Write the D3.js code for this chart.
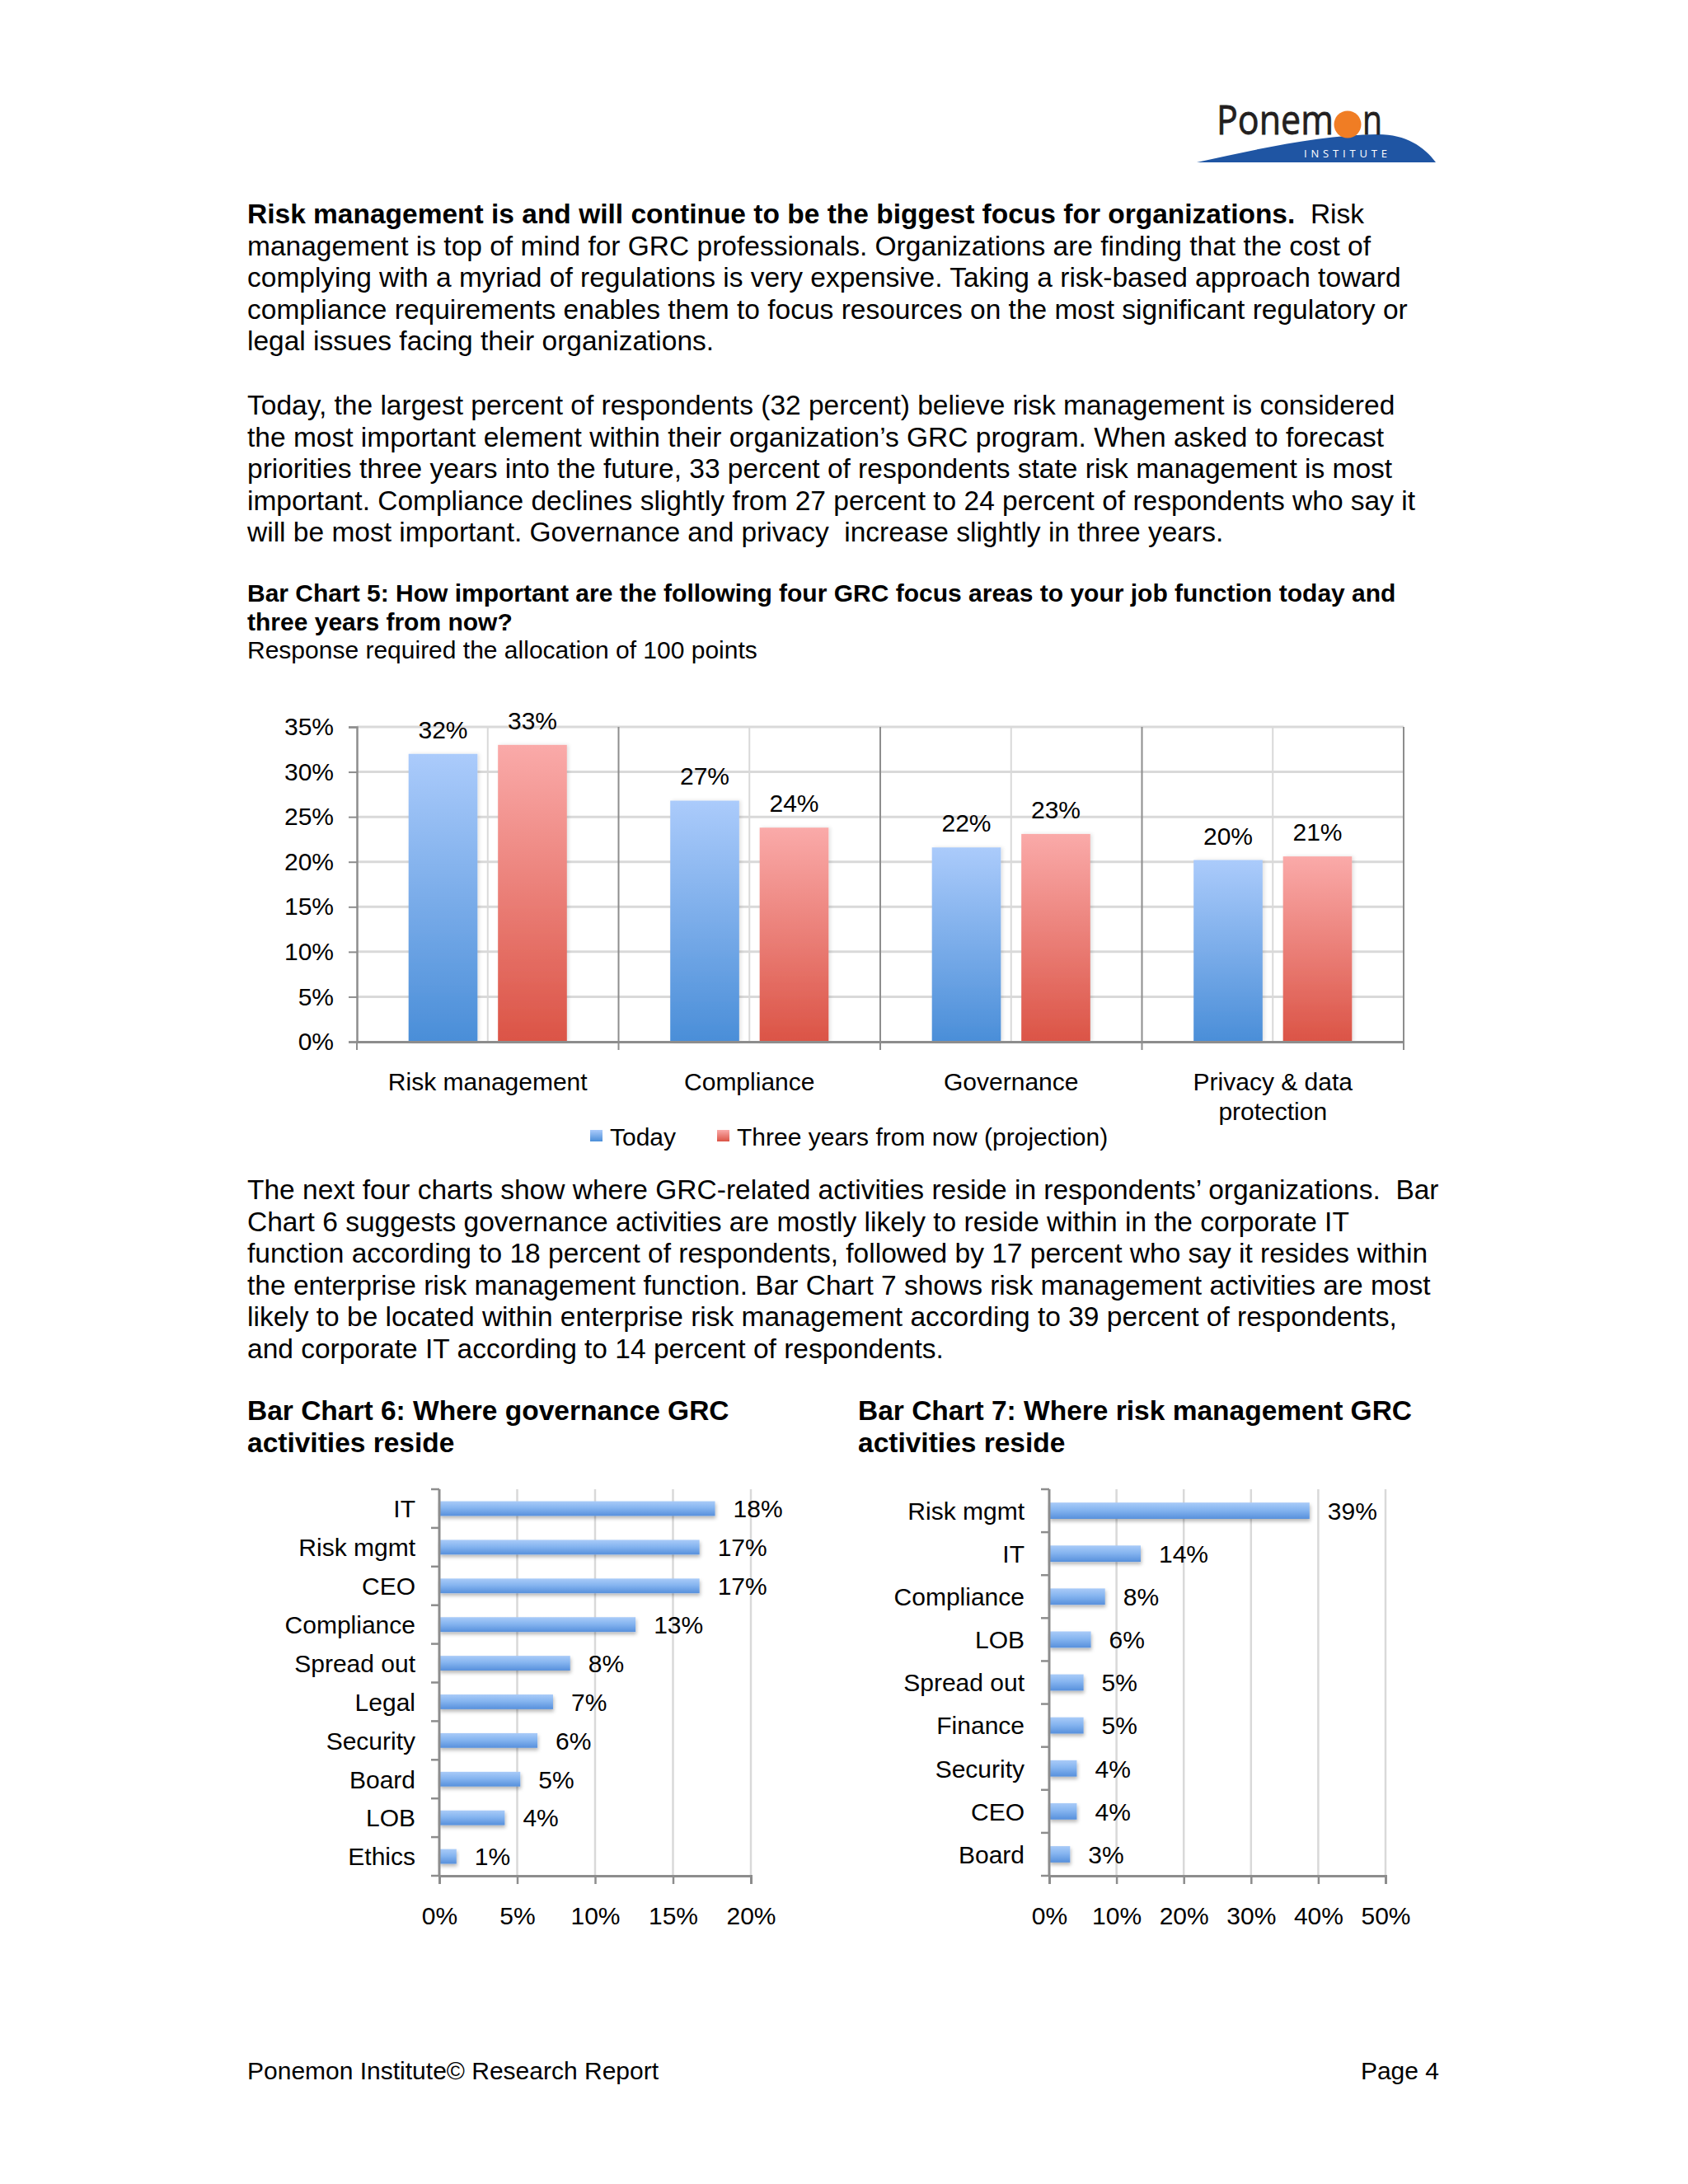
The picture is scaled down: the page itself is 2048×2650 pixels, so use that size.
<!DOCTYPE html>
<html>
<head>
<meta charset="utf-8">
<script src="https://cdn.jsdelivr.net/npm/d3@7"></script>
<style>
  html, body { margin: 0; padding: 0; background: #fff; }
  svg { display: block; }
  text { font-family: "Liberation Sans", Arial, Helvetica, sans-serif; fill: #000; white-space: pre; }
</style>
</head>
<body>
<script>
// ---------------- DATA ----------------
const para1Bold = "Risk management is and will continue to be the biggest focus for organizations.";
const para1Lines = [
  "  Risk",
  "management is top of mind for GRC professionals. Organizations are finding that the cost of",
  "complying with a myriad of regulations is very expensive. Taking a risk-based approach toward",
  "compliance requirements enables them to focus resources on the most significant regulatory or",
  "legal issues facing their organizations."
];
const para2Lines = [
  "Today, the largest percent of respondents (32 percent) believe risk management is considered",
  "the most important element within their organization\u2019s GRC program. When asked to forecast",
  "priorities three years into the future, 33 percent of respondents state risk management is most",
  "important. Compliance declines slightly from 27 percent to 24 percent of respondents who say it",
  "will be most important. Governance and privacy  increase slightly in three years."
];
const chart5TitleLines = [
  "Bar Chart 5: How important are the following four GRC focus areas to your job function today and",
  "three years from now?"
];
const chart5Subtitle = "Response required the allocation of 100 points";
const para3Lines = [
  "The next four charts show where GRC-related activities reside in respondents\u2019 organizations.  Bar",
  "Chart 6 suggests governance activities are mostly likely to reside within in the corporate IT",
  "function according to 18 percent of respondents, followed by 17 percent who say it resides within",
  "the enterprise risk management function. Bar Chart 7 shows risk management activities are most",
  "likely to be located within enterprise risk management according to 39 percent of respondents,",
  "and corporate IT according to 14 percent of respondents."
];
const chart6Title = ["Bar Chart 6: Where governance GRC", "activities reside"];
const chart7Title = ["Bar Chart 7: Where risk management GRC", "activities reside"];
const footerLeft = "Ponemon Institute\u00a9 Research Report";
const footerRight = "Page 4";

// Chart 5
const c5Categories = [["Risk management"], ["Compliance"], ["Governance"], ["Privacy & data", "protection"]];
const c5Series = ["Today", "Three years from now (projection)"];
const c5Today = [0.320, 0.268, 0.216, 0.202];
const c5Future = [0.330, 0.238, 0.231, 0.206];
const c5Ticks = [0, 0.05, 0.10, 0.15, 0.20, 0.25, 0.30, 0.35];

// Chart 6
const c6Categories = ["IT", "Risk mgmt", "CEO", "Compliance", "Spread out", "Legal", "Security", "Board", "LOB", "Ethics"];
const c6Values = [0.177, 0.167, 0.167, 0.126, 0.084, 0.073, 0.063, 0.052, 0.042, 0.011];
const c6Ticks = [0, 0.05, 0.10, 0.15, 0.20];

// Chart 7
const c7Categories = ["Risk mgmt", "IT", "Compliance", "LOB", "Spread out", "Finance", "Security", "CEO", "Board"];
const c7Values = [0.387, 0.136, 0.083, 0.062, 0.051, 0.051, 0.041, 0.041, 0.031];
const c7Ticks = [0, 0.10, 0.20, 0.30, 0.40, 0.50];

// ---------------- DRAW ----------------
const W = 2048, H = 2650;
const svg = d3.select("body").append("svg").attr("width", W).attr("height", H);
svg.append("rect").attr("width", W).attr("height", H).attr("fill", "#fff");

const defs = svg.append("defs");
function vgrad(id, stops) {
  const g = defs.append("linearGradient").attr("id", id)
    .attr("x1", 0).attr("y1", 0).attr("x2", 0).attr("y2", 1);
  stops.forEach(s => g.append("stop").attr("offset", s[0]).attr("stop-color", s[1]));
}
vgrad("gBlue", [[0, "#abcbfb"], [1, "#4a8ed8"]]);
vgrad("gRed", [[0, "#faaaa9"], [1, "#db5446"]]);
vgrad("gHBar", [[0, "#a9cbf8"], [0.45, "#86b5f0"], [1, "#5790dc"]]);
const f = defs.append("filter").attr("id", "shadow").attr("x", "-10%").attr("y", "-30%").attr("width", "130%").attr("height", "200%");
f.append("feDropShadow").attr("dx", 1).attr("dy", 3).attr("stdDeviation", 2)
  .attr("flood-color", "#000").attr("flood-opacity", 0.28);
const f2 = defs.append("filter").attr("id", "shadow2").attr("x", "-10%").attr("y", "-10%").attr("width", "130%").attr("height", "130%");
f2.append("feDropShadow").attr("dx", 2).attr("dy", 0).attr("stdDeviation", 2)
  .attr("flood-color", "#000").attr("flood-opacity", 0.12);

// ---- Logo ----
const logo = svg.append("g");
logo.append("path")
  .attr("d", "M1452,197 C1525,181 1600,164 1672,163 C1706,163 1728,178 1742,197 Z")
  .attr("fill", "#1f55a3");
const logoFont = "'Open Sans', 'DejaVu Sans', sans-serif";
logo.append("text").attr("x", 1476).attr("y", 163)
  .style("font-family", logoFont).style("font-size", "49px")
  .style("fill", "#231f20").style("stroke", "#231f20").style("stroke-width", "0.8px")
  .attr("textLength", 142).attr("lengthAdjust", "spacingAndGlyphs").text("Ponem");
logo.append("circle").attr("cx", 1635).attr("cy", 151).attr("r", 16.5).attr("fill", "#f07d24");
logo.append("text").attr("x", 1653).attr("y", 163)
  .style("font-family", logoFont).style("font-size", "49px")
  .style("fill", "#231f20").style("stroke", "#231f20").style("stroke-width", "0.8px")
  .attr("textLength", 24).attr("lengthAdjust", "spacingAndGlyphs").text("n");
logo.append("text").attr("x", 1582).attr("y", 191)
  .style("font-family", logoFont).style("font-size", "13px")
  .style("fill", "#fff").style("letter-spacing", "5px")
  .attr("textLength", 106).attr("lengthAdjust", "spacing").text("INSTITUTE");

// ---- Body text ----
const LEFT = 300, BODY = 33.5, LH = 38.6;
function lines(arr, y0, lh, size, weight) {
  arr.forEach((t, i) => {
    svg.append("text").attr("x", LEFT).attr("y", y0 + i * lh)
      .style("font-size", size + "px").style("font-weight", weight || "normal").text(t);
  });
}
const p1 = svg.append("text").attr("x", LEFT).attr("y", 271).style("font-size", BODY + "px");
p1.append("tspan").style("font-weight", "bold").text(para1Bold);
p1.append("tspan").text(para1Lines[0]);
lines(para1Lines.slice(1), 271 + LH, LH, BODY);
lines(para2Lines, 503, LH, BODY);
lines(chart5TitleLines, 730, 34.6, 30, "bold");
svg.append("text").attr("x", LEFT).attr("y", 799).style("font-size", "30px").text(chart5Subtitle);
lines(para3Lines, 1455, LH, BODY);
chart6Title.forEach((t, i) => svg.append("text").attr("x", LEFT).attr("y", 1723 + i * 39)
  .style("font-size", BODY + "px").style("font-weight", "bold").text(t));
chart7Title.forEach((t, i) => svg.append("text").attr("x", 1041).attr("y", 1723 + i * 39)
  .style("font-size", BODY + "px").style("font-weight", "bold").text(t));
svg.append("text").attr("x", LEFT).attr("y", 2523).style("font-size", "30px").text(footerLeft);
svg.append("text").attr("x", 1746).attr("y", 2523).attr("text-anchor", "end").style("font-size", "30px").text(footerRight);

const pct = d3.format(".0%");
const AXIS = "#8d8d8d", GRID = "#d9d9d9";

// ---- Chart 5 ----
(function () {
  const g = svg.append("g");
  const catIdx = d3.range(c5Categories.length);
  const x0 = d3.scaleBand().domain(catIdx).range([433, 1703]).padding(0);
  const x1 = d3.scaleBand().domain(c5Series).range([0, x0.bandwidth()]).paddingInner(0.229).paddingOuter(0.578);
  const y = d3.scaleLinear().domain([0, 0.35]).range([1264, 882]);
  const top = y(0.35), bottom = y(0);

  g.selectAll(".hg").data(c5Ticks.filter(t => t > 0)).join("line")
    .attr("x1", x0.range()[0]).attr("x2", x0.range()[1])
    .attr("y1", d => y(d)).attr("y2", d => y(d))
    .attr("stroke", GRID).attr("stroke-width", 3);
  g.selectAll(".vm").data(catIdx).join("line")
    .attr("x1", d => x0(d) + x0.bandwidth() / 2).attr("x2", d => x0(d) + x0.bandwidth() / 2)
    .attr("y1", top).attr("y2", bottom).attr("stroke", GRID).attr("stroke-width", 2);
  const seps = catIdx.map(d => x0(d) + x0.bandwidth());
  g.selectAll(".sep").data(seps).join("line")
    .attr("x1", d => d).attr("x2", d => d).attr("y1", top).attr("y2", bottom + 10)
    .attr("stroke", AXIS).attr("stroke-width", 2);

  const series = [c5Today, c5Future];
  const fills = ["url(#gBlue)", "url(#gRed)"];
  series.forEach((vals, si) => {
    g.selectAll(".b" + si).data(vals).join("rect")
      .attr("x", (d, i) => x0(i) + x1(c5Series[si]))
      .attr("y", d => y(d)).attr("width", x1.bandwidth())
      .attr("height", d => bottom - y(d))
      .attr("fill", fills[si]).attr("filter", "url(#shadow2)");
    g.selectAll(".l" + si).data(vals).join("text")
      .attr("x", (d, i) => x0(i) + x1(c5Series[si]) + x1.bandwidth() / 2)
      .attr("y", d => y(d) - 19).attr("text-anchor", "middle")
      .style("font-size", "30px").text(d => pct(d));
  });

  const ya = g.append("g").attr("transform", `translate(${x0.range()[0]},0)`)
    .call(d3.axisLeft(y).tickValues(c5Ticks).tickFormat(pct).tickSize(10).tickPadding(18));
  ya.select(".domain").attr("stroke", AXIS).attr("stroke-width", 2.5);
  ya.selectAll(".tick line").attr("stroke", AXIS).attr("stroke-width", 2);
  ya.selectAll(".tick text").style("font-size", "30px").style("font-family", "'Liberation Sans', Arial, sans-serif").attr("fill", "#000");
  const xa = g.append("g").attr("transform", `translate(0,${bottom})`)
    .call(d3.axisBottom(x0).tickSize(0).tickFormat(""));
  xa.select(".domain").attr("stroke", AXIS).attr("stroke-width", 3);
  xa.selectAll(".tick text").remove();
  g.append("line").attr("x1", x0.range()[0]).attr("x2", x0.range()[0]).attr("y1", bottom).attr("y2", bottom + 10)
    .attr("stroke", AXIS).attr("stroke-width", 2);
  catIdx.forEach(i => {
    c5Categories[i].forEach((t, j) => {
      g.append("text").attr("x", x0(i) + x0.bandwidth() / 2).attr("y", 1323 + j * 36)
        .attr("text-anchor", "middle").style("font-size", "30px").text(t);
    });
  });
  const legX = [716, 870];
  c5Series.forEach((s, i) => {
    g.append("rect").attr("x", legX[i]).attr("y", 1371).attr("width", 15).attr("height", 14)
      .attr("fill", fills[i]);
    g.append("text").attr("x", legX[i] + 24).attr("y", 1390).style("font-size", "30px").text(s);
  });
})();

// ---- Horizontal bar charts ----
function hbar(cats, vals, ticks, xr, yr, labelRight) {
  const g = svg.append("g");
  const x = d3.scaleLinear().domain([ticks[0], ticks[ticks.length - 1]]).range(xr);
  const y = d3.scaleBand().domain(cats).range(yr).paddingInner(0.62).paddingOuter(0.31);
  g.selectAll(".vg").data(ticks.filter(t => t > 0)).join("line")
    .attr("x1", d => x(d)).attr("x2", d => x(d)).attr("y1", yr[0]).attr("y2", yr[1])
    .attr("stroke", GRID).attr("stroke-width", 2.5);
  g.selectAll(".bar").data(vals).join("rect")
    .attr("x", xr[0]).attr("y", (d, i) => y(cats[i]))
    .attr("width", d => x(d) - xr[0]).attr("height", y.bandwidth())
    .attr("fill", "url(#gHBar)").attr("filter", "url(#shadow)");
  g.selectAll(".vl").data(vals).join("text")
    .attr("x", d => x(d) + 22).attr("y", (d, i) => y(cats[i]) + y.bandwidth() / 2)
    .attr("dy", "0.36em").style("font-size", "30px").text(d => pct(d));
  const step = y.step();
  g.append("line").attr("x1", xr[0]).attr("x2", xr[0]).attr("y1", yr[0]).attr("y2", yr[1])
    .attr("stroke", AXIS).attr("stroke-width", 3);
  g.selectAll(".yt").data(d3.range(cats.length + 1)).join("line")
    .attr("x1", xr[0] - 10).attr("x2", xr[0]).attr("y1", i => yr[0] + i * step).attr("y2", i => yr[0] + i * step)
    .attr("stroke", AXIS).attr("stroke-width", 2.5);
  g.selectAll(".cl").data(cats).join("text")
    .attr("x", labelRight).attr("y", d => y(d) + y.bandwidth() / 2).attr("dy", "0.36em")
    .attr("text-anchor", "end").style("font-size", "30px").text(d => d);
  const xa = g.append("g").attr("transform", `translate(0,${yr[1]})`)
    .call(d3.axisBottom(x).tickValues(ticks).tickFormat(pct).tickSize(10).tickPadding(28));
  xa.select(".domain").attr("stroke", AXIS).attr("stroke-width", 3);
  xa.selectAll(".tick line").attr("stroke", AXIS).attr("stroke-width", 2.5);
  xa.selectAll(".tick text").style("font-size", "30px").style("font-family", "'Liberation Sans', Arial, sans-serif").attr("fill", "#000");
}
hbar(c6Categories, c6Values, c6Ticks, [533, 911], [1807, 2276], 504);
hbar(c7Categories, c7Values, c7Ticks, [1273, 1681], [1807, 2276], 1243);
</script>
</body>
</html>
